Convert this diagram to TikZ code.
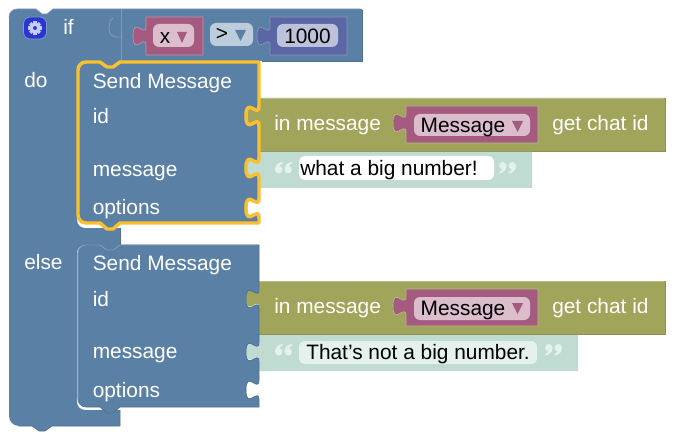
\documentclass[tikz,border=0pt]{standalone}
\usepackage{fontspec}
\setmainfont[Ligatures=ResetAll]{Liberation Sans}
\definecolor{blk}{HTML}{5B80A5}
\definecolor{blkhi}{HTML}{7F9CBA}
\definecolor{blkdk}{HTML}{50718F}
\definecolor{oli}{HTML}{A0A55B}
\definecolor{olihi}{HTML}{B7BB85}
\definecolor{olidk}{HTML}{8C9050}
\definecolor{pnk}{HTML}{A55B80}
\definecolor{pnkhi}{HTML}{C392AA}
\definecolor{pnkpill}{HTML}{DBBDCC}
\definecolor{ind}{HTML}{5B67A5}
\definecolor{indhi}{HTML}{8B94C0}
\definecolor{indpill}{HTML}{BDC2DB}
\definecolor{tea}{HTML}{C0DBD2}
\definecolor{teapill}{HTML}{E5F1ED}
\definecolor{blupill}{HTML}{BDCCDB}
\definecolor{sel}{HTML}{FBC02D}
\definecolor{iconblue}{HTML}{2A35D8}
\definecolor{gearc}{HTML}{C5CEF2}
\newcommand\sockd[3]{-- (#1,#2) .. controls (#1,{#2+0.67*#3}) and ({#1-13},{#2-0.53*#3}) .. ({#1-13},{#2+0.5*#3}) .. controls ({#1-13},{#2+1.53*#3}) and (#1,{#2+0.33*#3}) .. (#1,{#2+#3})}
\newcommand\socku[3]{-- (#1,{#2+#3}) .. controls (#1,{#2+0.33*#3}) and ({#1-13},{#2+1.53*#3}) .. ({#1-13},{#2+0.5*#3}) .. controls ({#1-13},{#2-0.53*#3}) and (#1,{#2+0.67*#3}) .. (#1,#2)}
% corner: from a, around b, to c
\newcommand\crv[6]{-- (#1,#2) .. controls ({#1+0.55*(#3-#1)},{#2+0.55*(#4-#2)}) and ({#5+0.55*(#3-#5)},{#6+0.55*(#4-#6)}) .. (#5,#6)}
% send-message block: top y, bottom y, three socket ys
\newcommand\sendpath[5]{(86,#1) -- (100,#1) -- (107,{#1+5}) -- (113,{#1+5}) -- (120,#1) -- (259,#1) \sockd{259}{#3}{20} \sockd{259}{#4}{20} \sockd{259}{#5}{20} -- (259,#2) -- (120,#2) -- (113,{#2+6}) -- (107,{#2+6}) -- (100,#2) -- (86,#2) .. controls (81.6,#2) and (78,{#2-3.6}) .. (78,{#2-8}) -- (78,{#1+8}) .. controls (78,{#1+3.6}) and (81.6,#1) .. (86,#1) -- cycle}
% one quote mark, 7.5 wide and 11.5 high, at top-left x y
\newcommand\qmark[2]{\fill[teapill] ({#1+3.7},{#2+7.8}) circle[radius=3.7]; \fill[teapill] (#1,{#2+7.8}) .. controls (#1,{#2+3.5}) and ({#1+3},{#2+0.5}) .. ({#1+7.5},#2) -- ({#1+7.5},{#2+1.5}) .. controls ({#1+5},{#2+2}) and ({#1+4.5},{#2+3.5}) .. ({#1+4.5},{#2+5}) -- cycle;}
\newcommand\qopen[2]{\qmark{#1}{#2}\qmark{#1+9.5}{#2}}
\newcommand\qclose[2]{\begin{scope}[rotate around={180:({#1+8.5},{#2+5.75})}]\qopen{#1}{#2}\end{scope}}
\tikzset{
  x=0.75pt,y=-0.75pt,
  wtxt/.style={anchor=base west,inner sep=0pt,text=white,yshift=-0.5pt,font=\fontsize{15.65}{18}\selectfont},
  btxt/.style={anchor=base,inner sep=0pt,text=black,yshift=-0.5pt,font=\fontsize{15.65}{18}\selectfont},
  pill/.style={rounded corners=4.5},
  edge/.style={line width=0.5pt},
}
\begin{document}
\begin{tikzpicture}
\useasboundingbox (0,0) rectangle (678,442);
% main if/else block
\fill[blk] (17,9) -- (36,9) -- (42,14) -- (47,14) -- (53,9) -- (362,9) -- (362,61) -- (120,61) -- (113,66) -- (107,66) -- (100,61) \crv{85}{61}{77}{61}{77}{69} \crv{77}{220}{77}{228}{85}{228} -- (120,228) -- (120,245) -- (113,250) -- (107,250) -- (100,245) \crv{85}{245}{77}{245}{77}{253} \crv{77}{402}{77}{410}{85}{410} -- (120,410) -- (120,426) -- (52,426) -- (45,431) -- (39,431) -- (32,426) \crv{19}{426}{9}{426}{9}{416} \crv{9}{17}{9}{9}{17}{9} -- cycle;
\path[draw=blkhi,edge] (9,17) .. controls (9,12.6) and (12.6,9) .. (17,9) -- (36,9) -- (42,14) -- (47,14) -- (53,9) -- (360,9);
\draw[blkdk,edge] (362,10) -- (362,61) -- (262,61);
\draw[blkdk,edge] (120,228) -- (120,245);
\draw[blkdk,edge] (120,410) -- (120,426) -- (52,426) -- (45,431) -- (39,431) -- (32,426) -- (19,426);
\draw[blkhi,edge] (121,9) -- (121,61);
\draw[blkhi,line width=0.6pt] (113,18) .. controls (110,20) and (109,24) .. (109,28) .. controls (109,34) and (111,38) .. (121,37);
% gear icon
\path[draw=blkhi,fill=iconblue,line width=0.6pt,rounded corners=5] (23.5,17) rectangle (46.5,39);
\foreach \a in {0,45,...,315}{\fill[gearc,rotate around={\a:(35,28)}] (33.4,21.2) rectangle (36.6,24);}
\fill[gearc,even odd rule] (35,28) circle[radius=5] (35,28) circle[radius=2.1];
\node[wtxt] (iflab) at (63,34) {if};
% x variable
\path[fill=pnk,draw=pnkhi,edge] (146,17) -- (203,17) -- (203,55) -- (146,55) \socku{146}{26}{20} -- cycle;
\fill[pnkpill,pill] (153,24) rectangle (194,47);
\node[btxt] (xvar) at (165,43) {x};
\fill[pnk] (177,32) -- (187,32) -- (182,43) -- cycle;
% comparator
\fill[blupill,pill] (210,23) rectangle (253,46);
\node[btxt] (cmp) at (222,40) {>};
\fill[blk] (235,30) -- (246,30) -- (240.5,41) -- cycle;
% number
\path[fill=ind,draw=indhi,edge] (270,17) -- (347,17) -- (347,55) -- (270,55) \socku{270}{26}{20} -- cycle;
\fill[indpill,pill] (277,24) rectangle (338,47);
\node[btxt] (num) at (307.5,43) {1000};
% labels of if block
\node[wtxt] (dolab) at (24,87) {do};
\node[wtxt] (elselab) at (24,269) {else};
% first value block
\path[fill=oli] (259,98) -- (665,98) -- (665,151) -- (259,151) \socku{259}{106}{20} -- cycle;
\draw[olihi,edge] (259,98.4) -- (664,98.4);
\draw[olidk,edge] (665,98) -- (665,151) -- (259,151);
\node[wtxt] (inm1) at (274,130) {in message};
\path[fill=pnk,draw=olihi,edge] (406,106) -- (538,106) -- (538,143) -- (406,143) \socku{406}{113}{20} -- cycle;
\fill[pnkpill,pill] (414,114) rectangle (530,136);
\node[btxt] (msg1) at (463,132) {Message};
\fill[pnk] (512,121) -- (523,121) -- (517.5,132) -- cycle;
\node[wtxt] (get1) at (552,130) {get chat id};
% first text block
\path[fill=tea] (259,152) -- (532,152) -- (532,188) -- (259,188) \socku{259}{158}{20} -- cycle;
\qopen{275}{162}
\fill[white,pill] (299,156) rectangle (494,180);
\node[btxt,anchor=base west] (t1) at (300,175) {what a big number!};
\qclose{499}{162}
% second value block
\path[fill=oli] (259,281) -- (665,281) -- (665,334) -- (259,334) \socku{259}{288}{20} -- cycle;
\draw[olihi,edge] (259,281.4) -- (664,281.4);
\draw[olidk,edge] (665,281) -- (665,334) -- (259,334);
\node[wtxt] (inm2) at (274,313) {in message};
\path[fill=pnk,draw=olihi,edge] (406,289) -- (538,289) -- (538,326) -- (406,326) \socku{406}{296}{20} -- cycle;
\fill[pnkpill,pill] (414,297) rectangle (530,320);
\node[btxt] (msg2) at (463,315) {Message};
\fill[pnk] (512,303) -- (523,303) -- (517.5,314) -- cycle;
\node[wtxt] (get2) at (552,313) {get chat id};
% second text block
\path[fill=tea] (259,335) -- (578,335) -- (578,371) -- (259,371) \socku{259}{341}{20} -- cycle;
\qopen{275}{344}
\fill[teapill,pill] (299,341) rectangle (537,364);
\node[btxt,anchor=base west] (t2) at (306,359) {That's not a big number.};
\qclose{545}{344}
% second send block
\path[fill=blk,draw=blkdk,edge] \sendpath{245}{407}{289}{342}{380};
\draw[blkhi,line width=0.7pt] (78,399) -- (78,253) .. controls (78,248.6) and (81.6,245) .. (86,245) -- (100,245) -- (107,250) -- (113,250) -- (120,245) -- (258,245);
\node[wtxt] (s2) at (92.5,269.5) {Send Message};
\node[wtxt] (i2) at (92.5,306) {id};
\node[wtxt] (m2) at (92.5,358) {message};
\node[wtxt] (o2) at (92.5,397) {options};
% first send block (selected)
\path[fill=blk,draw=sel,line width=2.6pt,line join=round] \sendpath{62}{223}{106}{158}{198};
\node[wtxt] (s1) at (92.5,87.5) {Send Message};
\node[wtxt] (i1) at (92.5,123) {id};
\node[wtxt] (m1) at (92.5,176) {message};
\node[wtxt] (o1) at (92.5,214) {options};
\end{tikzpicture}
\end{document}
